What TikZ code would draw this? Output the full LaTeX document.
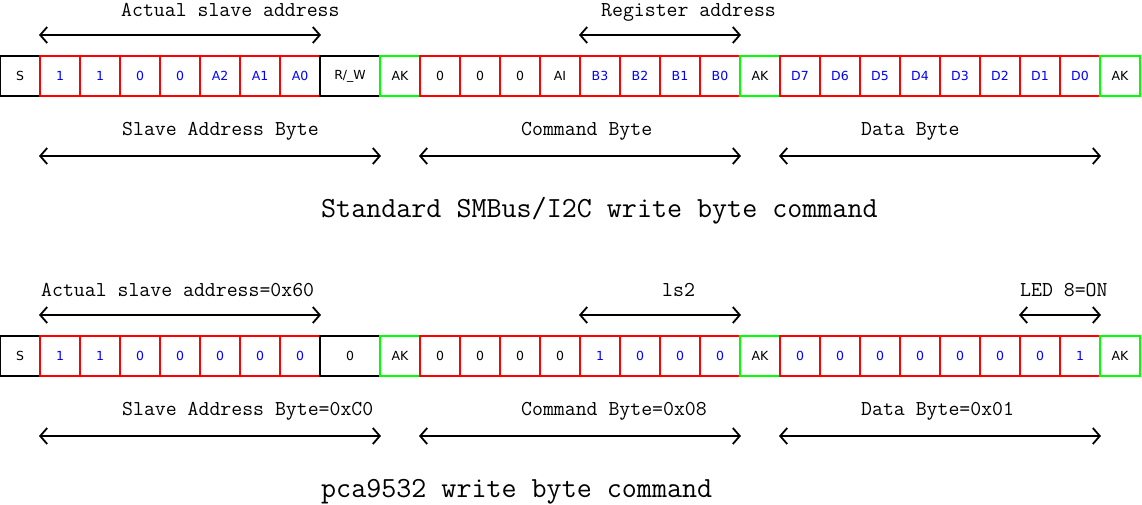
\documentclass[tikz,border=0pt]{standalone}
\usepackage{fontspec}
\usetikzlibrary{arrows.meta}
\newfontfamily\bxfont{DejaVu Sans}
\definecolor{bred}{RGB}{255,0,0}
\definecolor{bgreen}{RGB}{0,255,0}
\definecolor{bblue}{RGB}{0,0,255}
\tikzset{
  bitbox/.style={draw, line width=2pt, minimum width=40pt, minimum height=40pt, inner sep=0pt, font=\bxfont\fontsize{12.5}{14}\selectfont},
  databit/.style={bitbox, draw=bred, text=bblue},
  cmdbit/.style={bitbox, draw=bred, text=black},
  ackbit/.style={bitbox, draw=bgreen, text=black},
  ctlbit/.style={bitbox, draw=black, text=black},
  lbl/.style={anchor=base west, inner sep=0pt, font=\ttfamily\fontsize{21.2}{23}\selectfont},
  ttl/.style={anchor=base west, inner sep=0pt, font=\ttfamily\fontsize{29.2}{31}\selectfont},
  dimarrow/.style={line width=1.8pt, {Straight Barb[length=7pt,width=16pt,line width=1.8pt]}-{Straight Barb[length=7pt,width=16pt,line width=1.8pt]}}
}
\begin{document}
\begin{tikzpicture}[x=1pt,y=-1pt]
\useasboundingbox (0,0) rectangle (1142,504);
% ---------- Row 1 ----------
\node[ctlbit] (a0) at (20,76) {S};
\foreach \i/\t in {1/1,2/1,3/0,4/0,5/A2,6/A1,7/A0}
  \node[databit] (a\i) at (20+40*\i,76) {\t};
\node[ctlbit, minimum width=60pt] (arw) at (350,76) {R/\_W};
\node[ackbit] (aak1) at (400,76) {AK};
\foreach \i/\t/\s in {1/0/cmdbit,2/0/cmdbit,3/0/cmdbit,4/AI/cmdbit,5/B3/databit,6/B2/databit,7/B1/databit,8/B0/databit}
  \node[\s] (ac\i) at (400+40*\i,76) {\t};
\node[ackbit] (aak2) at (760,76) {AK};
\foreach \i/\t in {1/D7,2/D6,3/D5,4/D4,5/D3,6/D2,7/D1,8/D0}
  \node[databit] (ad\i) at (760+40*\i,76) {\t};
\node[ackbit] (aak3) at (1120,76) {AK};

\draw[dimarrow] ([yshift=20pt]a1.north west) -- ([yshift=20pt]a7.north east);
\draw[dimarrow] ([yshift=20pt]ac5.north west) -- ([yshift=20pt]ac8.north east);
\draw[dimarrow] ([yshift=-59pt]a1.south west) -- ([yshift=-59pt]arw.south east);
\draw[dimarrow] ([yshift=-59pt]ac1.south west) -- ([yshift=-59pt]ac8.south east);
\draw[dimarrow] ([yshift=-59pt]ad1.south west) -- ([yshift=-59pt]ad8.south east);

\node[lbl] (alb1) at (121,16) {Actual slave address};
\node[lbl] (alb2) at (601,16) {Register address};
\node[lbl] (alb3) at (122,135) {Slave Address Byte};
\node[lbl] (alb4) at (521,135) {Command Byte};
\node[lbl] (alb5) at (861,135) {Data Byte};
\node[ttl] (attl) at (321,217) {Standard SMBus/I2C write byte command};

% ---------- Row 2 ----------
\node[ctlbit] (b0) at (20,356) {S};
\foreach \i/\t in {1/1,2/1,3/0,4/0,5/0,6/0,7/0}
  \node[databit] (b\i) at (20+40*\i,356) {\t};
\node[ctlbit, minimum width=60pt] (brw) at (350,356) {0};
\node[ackbit] (bak1) at (400,356) {AK};
\foreach \i/\t/\s in {1/0/cmdbit,2/0/cmdbit,3/0/cmdbit,4/0/cmdbit,5/1/databit,6/0/databit,7/0/databit,8/0/databit}
  \node[\s] (bc\i) at (400+40*\i,356) {\t};
\node[ackbit] (bak2) at (760,356) {AK};
\foreach \i/\t in {1/0,2/0,3/0,4/0,5/0,6/0,7/0,8/1}
  \node[databit] (bd\i) at (760+40*\i,356) {\t};
\node[ackbit] (bak3) at (1120,356) {AK};

\draw[dimarrow] ([yshift=20pt]b1.north west) -- ([yshift=20pt]b7.north east);
\draw[dimarrow] ([yshift=20pt]bc5.north west) -- ([yshift=20pt]bc8.north east);
\draw[dimarrow] ([yshift=20pt]bd7.north west) -- ([yshift=20pt]bd8.north east);
\draw[dimarrow] ([yshift=-59pt]b1.south west) -- ([yshift=-59pt]brw.south east);
\draw[dimarrow] ([yshift=-59pt]bc1.south west) -- ([yshift=-59pt]bc8.south east);
\draw[dimarrow] ([yshift=-59pt]bd1.south west) -- ([yshift=-59pt]bd8.south east);

\node[lbl] (blb1) at (41,296) {Actual slave address=0x60};
\node[lbl] (blb2) at (662,296) {ls2};
\node[lbl] (blb6) at (1020,296) {LED 8=ON};
\node[lbl] (blb3) at (122,415) {Slave Address Byte=0xC0};
\node[lbl] (blb4) at (521,415) {Command Byte=0x08};
\node[lbl] (blb5) at (861,415) {Data Byte=0x01};
\node[ttl] (bttl) at (321,497) {pca9532 write byte command};
\end{tikzpicture}
\end{document}
